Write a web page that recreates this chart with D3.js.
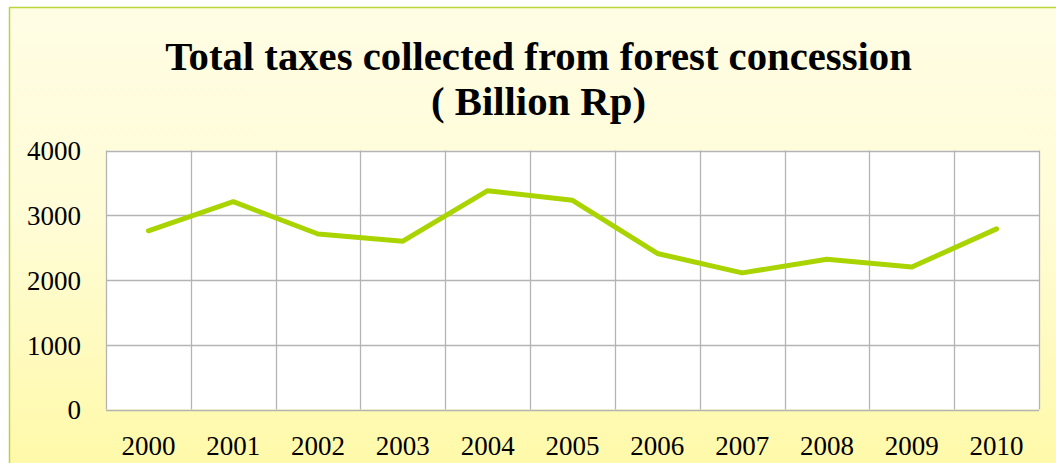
<!DOCTYPE html>
<html>
<head>
<meta charset="utf-8">
<script src="https://cdn.jsdelivr.net/npm/d3@7"></script>
<style>
  html, body { margin: 0; padding: 0; background: #ffffff; }
  svg { display: block; }
</style>
</head>
<body>
<svg id="chart" width="1056" height="463"></svg>
<script>
// Yearly totals of taxes collected from forest concessions (billion Rp)
const years = ["2000", "2001", "2002", "2003", "2004", "2005", "2006", "2007", "2008", "2009", "2010"];
const taxes = [2760, 3210, 2710, 2600, 3380, 3230, 2410, 2110, 2320, 2200, 2790];
const yTicks = [0, 1000, 2000, 3000, 4000];
const titleLines = ["Total taxes collected from forest concession", "( Billion Rp)"];

const W = 1056, H = 463;
const svg = d3.select("#chart");

// Background panel with soft vertical yellow gradient
const defs = svg.append("defs");
const grad = defs.append("linearGradient")
  .attr("id", "bg").attr("x1", 0).attr("y1", 0).attr("x2", 0).attr("y2", 1);
grad.append("stop").attr("offset", "0%").attr("stop-color", "#fffde4");
grad.append("stop").attr("offset", "45%").attr("stop-color", "#fffcd6");
grad.append("stop").attr("offset", "100%").attr("stop-color", "#fff9a6");

svg.append("rect")
  .attr("x", 9.5).attr("y", 7.5)
  .attr("width", W + 10).attr("height", H + 10)
  .attr("fill", "url(#bg)")
  .attr("stroke", "#b9d53c").attr("stroke-width", 1.5);

// Plot area
const plot = { left: 106, top: 150.5, right: 1039, bottom: 409.5 };

const x = d3.scaleBand().domain(years).range([plot.left, plot.right]).padding(0);
const y = d3.scaleLinear().domain([0, 4000]).range([plot.bottom, plot.top]);

svg.append("rect")
  .attr("x", plot.left).attr("y", plot.top)
  .attr("width", plot.right - plot.left).attr("height", plot.bottom - plot.top)
  .attr("fill", "#ffffff");

const gridColor = "#b4b4b4";

// Horizontal gridlines
svg.append("g").selectAll("line").data(yTicks).join("line")
  .attr("x1", plot.left).attr("x2", plot.right)
  .attr("y1", d => Math.round(y(d)) + 0.5).attr("y2", d => Math.round(y(d)) + 0.5)
  .attr("stroke", gridColor).attr("stroke-width", 1.3);

// Vertical gridlines at category boundaries
const bounds = years.map(d => x(d)).concat([plot.right]);
svg.append("g").selectAll("line").data(bounds).join("line")
  .attr("x1", d => Math.round(d) + 0.5).attr("x2", d => Math.round(d) + 0.5)
  .attr("y1", plot.top).attr("y2", plot.bottom)
  .attr("stroke", gridColor).attr("stroke-width", 1.3);

const labelFont = "'Liberation Serif', 'DejaVu Serif', serif";

// Y axis labels
const yAxis = d3.axisLeft(y).tickValues(yTicks).tickSize(0).tickPadding(25)
  .tickFormat(d3.format("d"));
const gy = svg.append("g").attr("transform", `translate(${plot.left},0)`).call(yAxis);
gy.select(".domain").remove();
gy.selectAll("text")
  .attr("font-family", labelFont).attr("font-size", 27).attr("fill", "#000")
  .attr("dy", "0.35em");

// X axis labels
const xAxis = d3.axisBottom(x).tickSize(0).tickPadding(26);
const gx = svg.append("g").attr("transform", `translate(0,${plot.bottom})`).call(xAxis);
gx.select(".domain").remove();
gx.selectAll("text")
  .attr("font-family", labelFont).attr("font-size", 27).attr("fill", "#000");

// Data line
const line = d3.line()
  .x((d, i) => x(years[i]) + x.bandwidth() / 2)
  .y(d => y(d));

svg.append("path")
  .datum(taxes)
  .attr("d", line)
  .attr("fill", "none")
  .attr("stroke", "#aad400")
  .attr("stroke-width", 5)
  .attr("stroke-linejoin", "round")
  .attr("stroke-linecap", "round");

// Title, scaled so the first line spans its intended width
const titleFont = "'Liberation Serif', 'DejaVu Serif', serif";
const cx = 538.5;
const t1 = svg.append("text")
  .attr("x", cx).attr("y", 70)
  .attr("text-anchor", "middle")
  .attr("font-family", titleFont).attr("font-weight", "bold")
  .attr("font-size", 36).attr("fill", "#000")
  .text(titleLines[0]);
const w1 = t1.node().getComputedTextLength();
const fs = 36 * 747 / w1;
t1.attr("font-size", fs);
svg.append("text")
  .attr("x", cx).attr("y", 115)
  .attr("text-anchor", "middle")
  .attr("font-family", titleFont).attr("font-weight", "bold")
  .attr("font-size", fs).attr("fill", "#000")
  .text(titleLines[1]);
</script>
</body>
</html>
